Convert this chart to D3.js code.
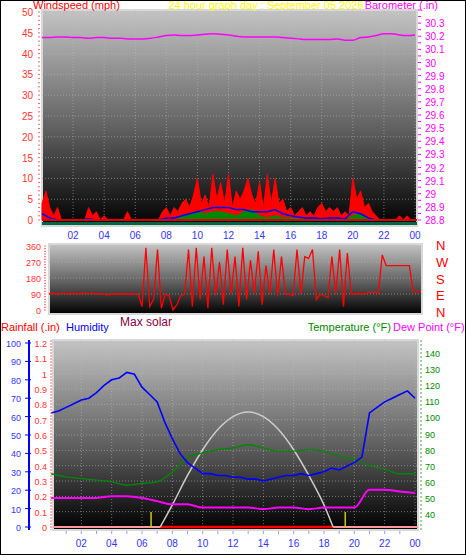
<!DOCTYPE html>
<html><head><meta charset="utf-8">
<script src="https://cdn.jsdelivr.net/npm/d3@7"></script>
<style>
body{margin:0;background:#fff;}
svg{display:block;font-family:"Liberation Sans",Arial,sans-serif;}
</style></head>
<body><svg id="chart" width="466" height="555"></svg>
<script>
// ---- data ----
const title = "24 hour graph day : September 05 2026";
// wind gust, 15 min steps (mph)
const windGust = [4,7,3,1, 3,0,0,0, 0,0,0,0, 3,1,2,0,
  1,0,0,0, 0,0,2,0, 0,0,0,0, 0,0,0,2,
  3,1,3,2, 4,5,3,6, 10,4,6,3, 11,5,9,4,
  11,3,7,5, 7,10,6,4, 9,3,11,4, 10,4,5,2,
  3,1,2,3, 1,2,1,3, 4,2,3,2, 3,1,2,1,
  10,5,7,3, 4,2,1,0, 0,0,0,0, 1,0,1,0, 0];
// wind average, 30 min steps
const windAvg = [1.5,0.5,0,0,0,0,0.3,0,0,0,0,0,0,0,0,0,0.5,0.5,1,1.5,2,2.5,3,3,3,2.5,2.5,2,2,2,2.5,1.5,1,0.7,0.5,0.5,0.3,0.5,0.5,0.3,2,1.5,0.5,0,0,0,0,0,0];
// wind lull, 30 min steps
const windLull = [0,0,0,0,0,0,0,0,0,0,0,0,0,0,0,0,0,0,1,1.5,2,1.5,2,2,1.5,1,2,2.5,1,0.5,1,0.5,0.5,0.3,0.3,0.5,0.3,0.2,0.3,0,1,1.5,0.5,0,0,0,0,0,0];
// barometer, 30 min steps (in)
const baro = [30.19,30.19,30.195,30.195,30.19,30.19,30.185,30.19,30.19,30.185,30.185,30.18,30.18,30.18,30.185,30.195,30.205,30.21,30.205,30.205,30.21,30.215,30.22,30.215,30.21,30.2,30.195,30.195,30.195,30.195,30.195,30.19,30.185,30.18,30.175,30.175,30.175,30.175,30.18,30.17,30.17,30.19,30.195,30.205,30.22,30.22,30.21,30.205,30.21];
// wind direction, 15 min steps (deg)
const windDir = [90,95,90,92,95,90,95,92,90,95,92,95,90,92,90,85,90,90,90,90,90,90,90,90,
  20,350,20,60,340,10,90,80,0,30,80,90,
  340,20,350,60,300,10,350,80,270,30,340,90,300,20,350,60,280,90,330,30,250,90,340,80,300,90,
  90,80,340,90,300,290,340,60,90,80,70,300,90,340,20,320,
  90,90,95,90,95,100,100,95,
  310,250,250,250,250,250,250,250,
  100,100,110];
// humidity, 30 min steps (%)
const humidity = [62,63,65,67,69,70,73,77,80,81,84,83,76,72,68,57,48,40,35,32,29,29,28,28,27,27,26,26,25,26,27,28,28,29,28,29,30,32,31,33,35,38,62,65,68,70,72,74,70];
// temperature and dew point, hourly (F)
const temperature = [65,63,62,61,60,58,59,60,66,75,78,80,81,83,81,79,79,80,79,76,74,70,68,65,65];
const dewPoint = [50,50,50,50,51,51,50,48,46,46,44,44,44,44,43,44,44,43,44,44,44,55,55,54,53];
// max solar (as % of panel)
const solarHours = [7.2,8,9,10,11,12,13,14,15,16,17,18,18.6];
const solarVals = [0,12,28,42,53,60,62.5,60,53,42,28,12,0];
const sunMarks = [6.6,19.4];
const hourLabels = ["02","04","06","08","10","12","14","16","18","20","22","00"];

const svg = d3.select("#chart");
svg.append("rect").attr("x",0.5).attr("y",0.5).attr("width",465).attr("height",554).attr("fill","#fff").attr("stroke","#000");

const defs = svg.append("defs");
const grad = defs.append("linearGradient").attr("id","bg").attr("x1",0).attr("x2",0).attr("y1",0).attr("y2",1);
grad.append("stop").attr("offset","0%").attr("stop-color","#c4c4c4");
grad.append("stop").attr("offset","55%").attr("stop-color","#606060");
grad.append("stop").attr("offset","100%").attr("stop-color","#000");

function panel(x0,x1,y0,y1){
  svg.append("rect").attr("x",x0).attr("y",y0).attr("width",x1-x0).attr("height",y1-y0)
    .attr("fill","url(#bg)").attr("stroke","#d8d8d8").attr("stroke-width",2);
}
function grid(xs,ys,x0,x1,y0,y1,xvals,yvals){
  const g = svg.append("g").attr("stroke","#bbb").attr("stroke-opacity",0.55).attr("stroke-dasharray","1,2");
  xvals.forEach(v=>g.append("line").attr("x1",xs(v)).attr("x2",xs(v)).attr("y1",y0).attr("y2",y1));
  yvals.forEach(v=>g.append("line").attr("x1",x0).attr("x2",x1).attr("y1",ys(v)).attr("y2",ys(v)));
}
function txt(x,y,s,color,size,anchor){
  return svg.append("text").attr("x",x).attr("y",y).attr("fill",color).attr("font-size",size||10)
    .attr("text-anchor",anchor||"start").text(s);
}
const fmt = v => String(+v.toFixed(1));
const hours2 = d3.range(2,25,2);

// ============ top panel: wind + barometer ============
const xT = d3.scaleLinear().domain([0,24]).range([42,415]);
const yW = d3.scaleLinear().domain([0,50]).range([220,12]);
const yB = d3.scaleLinear().domain([28.8,30.4]).range([220,10]);
panel(42,417,10,226);
grid(xT,yW,42,417,10,226,hours2,d3.range(0,51,5));
const q = (d,i)=>i*0.25, h=(d,i)=>i*0.5;
svg.append("path").datum(windGust).attr("fill","#f00").attr("stroke","#f00")
  .attr("d",d3.area().x((d,i)=>xT(q(d,i))).y0(yW(0)).y1(d=>yW(d)));
svg.append("path").datum(windLull).attr("fill","#080").attr("stroke","#080")
  .attr("d",d3.area().x((d,i)=>xT(h(d,i))).y0(yW(0)).y1(d=>yW(d)));
svg.append("path").datum(windAvg).attr("fill","none").attr("stroke","#00f").attr("stroke-width",1.5)
  .attr("d",d3.line().x((d,i)=>xT(h(d,i))).y(d=>yW(d)));
svg.append("line").attr("x1",42).attr("x2",417).attr("y1",yW(0)).attr("y2",yW(0)).attr("stroke","#d00").attr("stroke-width",2);
svg.append("rect").attr("x",42).attr("y",222).attr("width",375).attr("height",3).attr("fill","#064");
svg.append("path").datum(baro).attr("fill","none").attr("stroke","#f0f").attr("stroke-width",1.5)
  .attr("d",d3.line().curve(d3.curveMonotoneX).x((d,i)=>xT(h(d,i))).y(d=>yB(d)));
d3.range(0,51,5).forEach(v=>txt(33,yW(v)+4,v,"#f33",10,"end"));
d3.range(0,51,1).forEach(v=>svg.append("line").attr("x1",38).attr("x2",40).attr("y1",yW(v)).attr("y2",yW(v)).attr("stroke","#f66"));
d3.range(28.8,30.35,0.1).forEach(v=>txt(425,yB(v)+4,fmt(v),"#f0f",10));
d3.range(28.8,30.41,0.05).forEach(v=>svg.append("line").attr("x1",418).attr("x2",421).attr("y1",yB(v)).attr("y2",yB(v)).attr("stroke","#f0f"));
hourLabels.forEach((s,i)=>txt(xT(hours2[i]),239,s,"#33f",10,"middle"));
txt(33,9,"Windspeed (mph)","#f00",11);
txt(266,9,title,"#ff0",11,"middle");
txt(438,9,"Barometer (.in)","#f0f",11,"end");

// ============ middle panel: wind direction ============
const xM = d3.scaleLinear().domain([0,24]).range([49,421]);
const yD = d3.scaleLinear().domain([0,360]).range([310,246]);
panel(49,422,244,314);
grid(xM,yD,49,422,244,314,[],[90,180,270]);
svg.append("path").datum(windDir).attr("fill","none").attr("stroke","#f00").attr("stroke-width",1.3)
  .attr("d",d3.line().x((d,i)=>xM(q(d,i))).y(d=>yD(d)));
[0,90,180,270,360].forEach(v=>txt(41,yD(v)+4,v,"#f33",9,"end"));
d3.range(0,361,15).forEach(v=>svg.append("line").attr("x1",44).attr("x2",46).attr("y1",yD(v)).attr("y2",yD(v)).attr("stroke","#f66"));
["N","W","S","E","N"].forEach((s,i)=>txt(436,250+i*16.8,s,"#f00",13));

// ============ bottom panel ============
txt(120,326,"Max solar","#804",12);
txt(1,331,"Rainfall (.in)","#f00",11);
txt(66,331,"Humidity","#00f",11);
txt(391,331,"Temperature (°F)","#080",11,"end");
txt(393,331,"Dew Point (°F)","#f0f",11);

const xB = d3.scaleLinear().domain([0,24]).range([51,415]);
const yH = d3.scaleLinear().domain([0,100]).range([527,343]);
const yR = d3.scaleLinear().domain([0,1.2]).range([527,343]);
const yTp = d3.scaleLinear().domain([40,140]).range([514,353]);
panel(53,418,340,530);
grid(xB,yR,53,418,340,530,hours2,d3.range(0,1.21,0.1));
svg.append("line").attr("x1",53).attr("x2",418).attr("y1",527).attr("y2",527).attr("stroke","#f99").attr("stroke-width",2);
svg.append("line").attr("x1",xB(7.2)).attr("x2",xB(18.6)).attr("y1",527).attr("y2",527).attr("stroke","#f00").attr("stroke-width",2.5);
sunMarks.forEach(v=>svg.append("line").attr("x1",xB(v)).attr("x2",xB(v)).attr("y1",512).attr("y2",527).attr("stroke","#cc0").attr("stroke-width",1.5));
svg.append("path").datum(solarVals).attr("fill","none").attr("stroke","#ccc").attr("stroke-width",1.5)
  .attr("d",d3.line().curve(d3.curveMonotoneX).x((d,i)=>xB(solarHours[i])).y(d=>yH(d)));
svg.append("path").datum(temperature).attr("fill","none").attr("stroke","#080").attr("stroke-width",1.3)
  .attr("d",d3.line().curve(d3.curveMonotoneX).x((d,i)=>xB(i)).y(d=>yTp(d)));
svg.append("path").datum(dewPoint).attr("fill","none").attr("stroke","#f0f").attr("stroke-width",2)
  .attr("d",d3.line().curve(d3.curveMonotoneX).x((d,i)=>xB(i)).y(d=>yTp(d)));
svg.append("path").datum(humidity).attr("fill","none").attr("stroke","#00f").attr("stroke-width",1.6)
  .attr("d",d3.line().x((d,i)=>xB(h(d,i))).y(d=>yH(d)));
// axes
svg.append("line").attr("x1",29).attr("x2",29).attr("y1",340).attr("y2",530).attr("stroke","#00f").attr("stroke-width",2);
d3.range(0,101,10).forEach(v=>{
  txt(21,yH(v)+4,v,"#33f",9,"end");
  svg.append("line").attr("x1",25).attr("x2",31).attr("y1",yH(v)).attr("y2",yH(v)).attr("stroke","#00f");
});
svg.append("line").attr("x1",51).attr("x2",51).attr("y1",340).attr("y2",530).attr("stroke","#f66").attr("stroke-dasharray","2,1");
d3.range(0,1.21,0.1).forEach(v=>txt(47,yR(v)+4,fmt(v),"#f33",9,"end"));
svg.append("line").attr("x1",421).attr("x2",421).attr("y1",340).attr("y2",530).attr("stroke","#3a3").attr("stroke-dasharray","2,2");
d3.range(40,141,10).forEach(v=>txt(425,yTp(v)+4,v,"#080",9));
hourLabels.forEach((s,i)=>txt(xB(hours2[i]),547,s,"#33f",10,"middle"));
d3.range(1,24,1).forEach(v=>svg.append("line").attr("x1",xB(v)).attr("x2",xB(v)).attr("y1",531).attr("y2",534).attr("stroke","#99f"));
</script></body></html>
